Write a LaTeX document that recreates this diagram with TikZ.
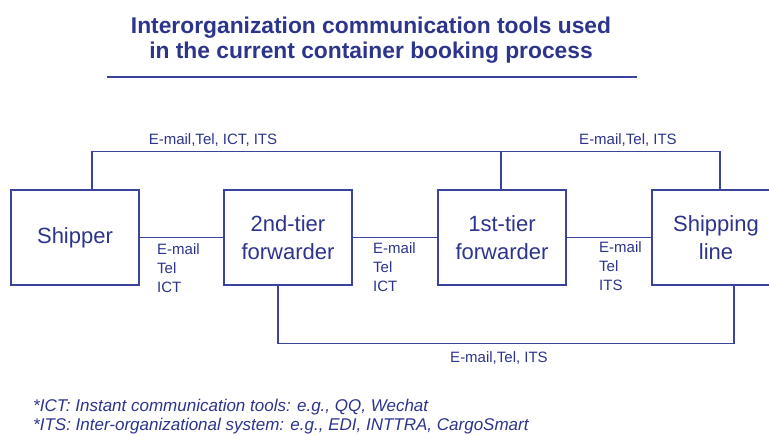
\documentclass[tikz,border=0pt]{standalone}
\usepackage{fontspec}
\setmainfont{Liberation Sans}
\usepackage{xcolor}
\usetikzlibrary{positioning}
\definecolor{inkblue}{RGB}{44,52,140}
\definecolor{lineblue}{RGB}{58,68,156}
\tikzset{
  party/.style={draw=lineblue, line width=1.2pt, minimum width=128pt, minimum height=95pt,
    align=center, text=inkblue, font=\fontsize{22}{28}\selectfont},
  tool/.style={text=inkblue, align=left, inner sep=0pt, font=\fontsize{15}{19}\selectfont},
  note/.style={text=inkblue, anchor=west, inner sep=0pt, font=\fontsize{17}{20}\selectfont\itshape},
  link/.style={draw=lineblue, line width=1.2pt}
}
\begin{document}
\begin{tikzpicture}[x=1pt, y=-1pt]
  \useasboundingbox (0,0) rectangle (769,436);
  \node(title) [text=inkblue, align=center, font=\fontsize{22.8}{25}\bfseries] at (371,40)
    {Interorganization communication tools used\\in the current container booking process};
  \draw[link] (107,77) -- (637,77);
  \node(shipper) [party] at (75,237.5) {Shipper};
  \node(fwdtwo) [party] at (288,237.5) {2nd-tier\\forwarder};
  \node(fwdone) [party] at (502,237.5) {1st-tier\\forwarder};
  \node(carrier) [party] at (716,237.5) {Shipping\\line};
  \draw[link] (shipper) -- (fwdtwo);
  \draw[link] (fwdtwo) -- (fwdone);
  \draw[link] (fwdone) -- (carrier);
  \draw[link] ([xshift=17pt]shipper.north) -- ++(0,-38) -| ([xshift=4pt]carrier.north);
  \draw[link] ([xshift=-1pt]fwdone.north) -- ++(0,-38);
  \draw[link] ([xshift=-10pt]fwdtwo.south) -- ++(0,58) -| ([xshift=18pt]carrier.south);
  \node(alltools) [tool] at (213,140) {E-mail,Tel, ICT, ITS};
  \node(linetools) [tool] at (628,140) {E-mail,Tel, ITS};
  \node(lowtools) [tool] at (499,358) {E-mail,Tel, ITS};
  \node(tools1) [tool, anchor=west] at (157,268) {E-mail\\Tel\\ICT};
  \node(tools2) [tool, anchor=west] at (373,267) {E-mail\\Tel\\ICT};
  \node(tools3) [tool, anchor=west] at (599,266) {E-mail\\Tel\\ITS};
  \node(noteict) [note] at (33,407) {*ICT: Instant communication tools: e.g., QQ, Wechat};
  \node(noteits) [note] at (33,426) {*ITS: Inter-organizational system: e.g., EDI, INTTRA, CargoSmart};
\end{tikzpicture}
\end{document}
